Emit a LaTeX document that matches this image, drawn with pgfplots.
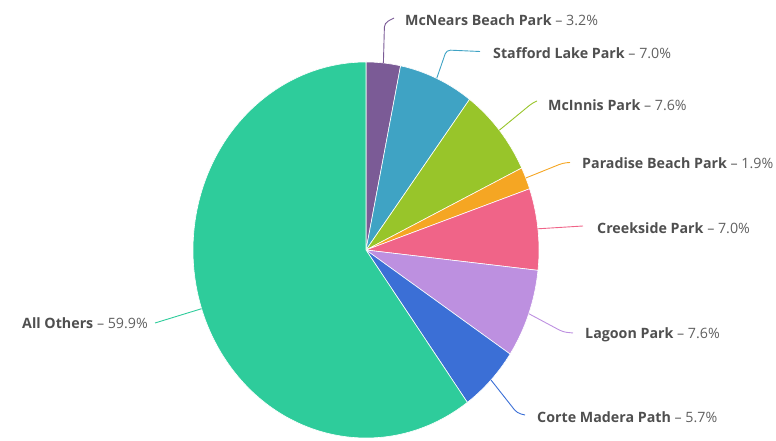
\documentclass[border=0pt]{standalone}
\usepackage{fontspec}
\setmainfont{Open Sans}
\usepackage{pgfplots}
\usepackage{pgfplotstable}
\pgfplotsset{compat=1.18}

\definecolor{cMcNears}{HTML}{7B5B96}
\definecolor{cStafford}{HTML}{3FA3C4}
\definecolor{cMcInnis}{HTML}{98C52A}
\definecolor{cParadise}{HTML}{F5A623}
\definecolor{cCreekside}{HTML}{F06488}
\definecolor{cLagoon}{HTML}{BD90E0}
\definecolor{cCorte}{HTML}{3B6FD6}
\definecolor{cOthers}{HTML}{2ECC9B}
\definecolor{txtdark}{HTML}{4F4F4F}
\definecolor{txtlight}{HTML}{606060}

% share of each park, clockwise from 12 o'clock
\pgfplotstableread{
name      value color
McNears   3.2   cMcNears
Stafford  7.0   cStafford
McInnis   7.6   cMcInnis
Paradise  1.9   cParadise
Creekside 7.0   cCreekside
Lagoon    7.6   cLagoon
Corte     5.7   cCorte
Others    59.9  cOthers
}\pietable

\newcommand{\lab}[4]{% x, y, anchor, text
  \node[anchor=#3, inner sep=0pt, font=\fontsize{14.3}{16}\selectfont]
    at (axis cs:#1,#2) {#4};}

\begin{document}
\begin{tikzpicture}
\begin{axis}[
    at={(0,0)}, anchor=south west,
    scale only axis,
    width=776bp, height=441bp,
    xmin=0, xmax=776, ymin=0, ymax=441,
    hide axis, clip=false, no markers,
]
\pgfplotsextra{
  \gdef\cum{0}
  \pgfmathsetmacro\degper{360/99.9}
  \foreach \i in {0,...,7}{
    \pgfplotstablegetelem{\i}{value}\of\pietable \let\slv\pgfplotsretval
    \pgfplotstablegetelem{\i}{color}\of\pietable \let\slc\pgfplotsretval
    \pgfmathsetmacro\angA{90-\degper*\cum}
    \pgfmathsetmacro\angB{90-\degper*(\cum+\slv)}
    \filldraw[fill=\slc, draw=white, line width=0.6bp]
      (axis cs:366,191) -- (axis cs:{366+173*cos(\angA)},{191+188*sin(\angA)})
      arc[start angle=\angA, end angle=\angB, x radius=173bp, y radius=188bp]
      -- cycle;
    \pgfmathsetmacro\nc{\cum+\slv}
    \global\let\cum\nc
  }
}

% leader lines
\addplot[cMcNears, line width=0.9bp, rounded corners=4bp] coordinates {(383.4,378.1) (384.5,418) (394,423)};
\addplot[cStafford, line width=0.9bp, rounded corners=4bp] coordinates {(436.7,362.6) (446.5,391) (480,389.5)};
\addplot[cMcInnis, line width=0.9bp, rounded corners=4bp] coordinates {(499.3,310.8) (533,338.5) (537,340)};
\addplot[cParadise, line width=0.9bp, rounded corners=4bp] coordinates {(525.8,263) (563,278) (570,278.5)};
\addplot[cCreekside, line width=0.9bp] coordinates {(537.9,212.2) (583,215)};
\addplot[cLagoon, line width=0.9bp, rounded corners=4bp] coordinates {(528.8,127.3) (563,109) (573,108)};
\addplot[cCorte, line width=0.9bp, rounded corners=4bp] coordinates {(491,61) (517,28) (525,26)};
\addplot[cOthers, line width=0.9bp] coordinates {(201.6,132.3) (155,118)};

\lab{405}{421}{west}{\textcolor{txtdark}{\textbf{McNears Beach Park}} \textcolor{txtlight}{– 3.2\%}}
\lab{493}{388}{west}{\textcolor{txtdark}{\textbf{Stafford Lake Park}} \textcolor{txtlight}{– 7.0\%}}
\lab{548}{336}{west}{\textcolor{txtdark}{\textbf{McInnis Park}} \textcolor{txtlight}{– 7.6\%}}
\lab{582}{278}{west}{\textcolor{txtdark}{\textbf{Paradise Beach Park}} \textcolor{txtlight}{– 1.9\%}}
\lab{597}{213}{west}{\textcolor{txtdark}{\textbf{Creekside Park}} \textcolor{txtlight}{– 7.0\%}}
\lab{585}{106}{west}{\textcolor{txtdark}{\textbf{Lagoon Park}} \textcolor{txtlight}{– 7.6\%}}
\lab{537}{24}{west}{\textcolor{txtdark}{\textbf{Corte Madera Path}} \textcolor{txtlight}{– 5.7\%}}
\lab{148}{118}{east}{\textcolor{txtdark}{\textbf{All Others}} \textcolor{txtlight}{– 59.9\%}}
\end{axis}
\pgfresetboundingbox
\useasboundingbox (0,0) rectangle (776bp,441bp);
\end{tikzpicture}
\end{document}
